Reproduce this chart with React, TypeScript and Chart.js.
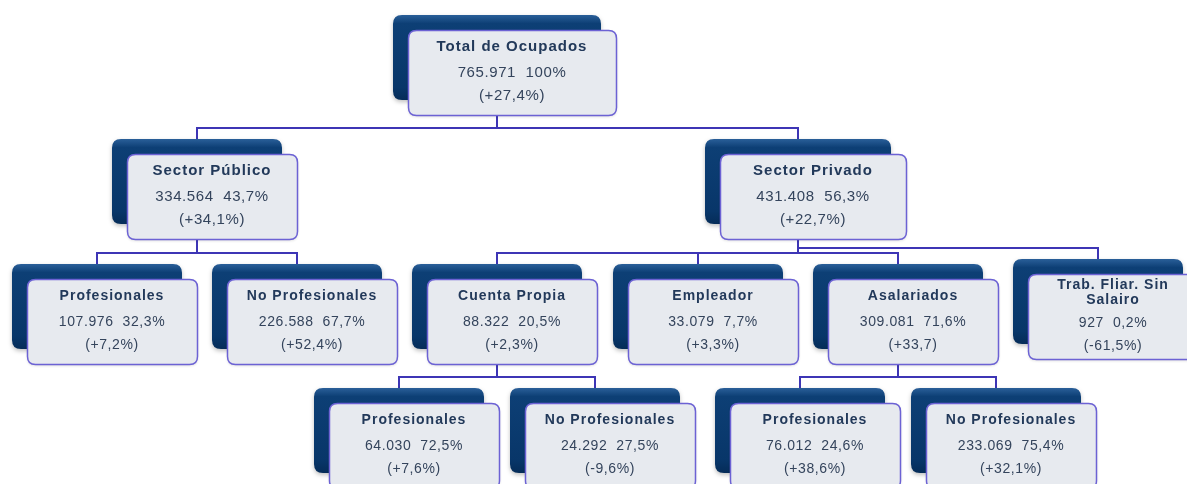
import { useEffect, useRef } from 'react';
import { Chart, registerables } from 'chart.js';
Chart.register(...registerables);

// ---- data ----
const nodeTitles = [
  'Total de Ocupados',
  'Sector Público',
  'Sector Privado',
  'Profesionales',
  'No Profesionales',
  'Cuenta Propia',
  'Empleador',
  'Asalariados',
  'Trab. Fliar. Sin\nSalairo',
  'Profesionales',
  'No Profesionales',
  'Profesionales',
  'No Profesionales',
];
const nodeParents = [-1, 0, 0, 1, 1, 2, 2, 2, 2, 5, 5, 7, 7];
const nodeCounts = [765971, 334564, 431408, 107976, 226588, 88322, 33079, 309081, 927, 64030, 24292, 76012, 233069];
const nodeShares = [100, 43.7, 56.3, 32.3, 67.7, 20.5, 7.7, 71.6, 0.2, 72.5, 27.5, 24.6, 75.4];
const nodeChanges = ['(+27,4%)', '(+34,1%)', '(+22,7%)', '(+7,2%)', '(+52,4%)', '(+2,3%)', '(+3,3%)', '(+33,7)', '(-61,5%)', '(+7,6%)', '(-9,6%)', '(+38,6%)', '(+32,1%)'];

// ---- styles ----
const BOX_H = 85;
const OFFSET = 15;
const DEFAULT_W = 170;
const WIDTH_OVERRIDE: Record<number, number> = { 0: 208, 2: 186 };
const LINE_COLOR = '#3d35b5';
const FRONT_FILL = '#e7eaef';
const FRONT_STROKE = '#6c62d4';
const TITLE_COLOR = '#22395a';
const VALUE_COLOR = '#34445c';
const FONT = '"Liberation Sans", Arial, sans-serif';

// ---- layout from tree structure ----
const depth: number[] = [];
const children: number[][] = nodeTitles.map(() => []);
nodeParents.forEach((p, i) => {
  depth[i] = p < 0 ? 0 : depth[p] + 1;
  if (p >= 0) children[p].push(i);
});
const slot: number[] = nodeTitles.map(() => 0);
let counter = 0;
nodeTitles.forEach((_, i) => {
  if (depth[i] === 2) slot[i] = counter++;
});
nodeTitles.forEach((_, i) => {
  if (depth[i] === 3) {
    const sib = children[nodeParents[i]];
    const j = sib.indexOf(i);
    slot[i] = slot[nodeParents[i]] + (j - (sib.length - 1) / 2) * 0.98;
  }
});
for (let i = nodeTitles.length - 1; i >= 0; i--) {
  if (depth[i] < 2 && children[i].length) {
    slot[i] = children[i].reduce((s, c) => s + slot[c], 0) / children[i].length;
  }
}

const fmtCount = (n: number) => String(n).replace(/\B(?=(\d{3})+(?!\d))/g, '.');
const fmtShare = (s: number) => String(s).replace('.', ',') + '%';

function roundRect(ctx: CanvasRenderingContext2D, x: number, y: number, w: number, h: number, r: number) {
  ctx.beginPath();
  ctx.moveTo(x + r, y);
  ctx.lineTo(x + w - r, y);
  ctx.quadraticCurveTo(x + w, y, x + w, y + r);
  ctx.lineTo(x + w, y + h - r);
  ctx.quadraticCurveTo(x + w, y + h, x + w - r, y + h);
  ctx.lineTo(x + r, y + h);
  ctx.quadraticCurveTo(x, y + h, x, y + h - r);
  ctx.lineTo(x, y + r);
  ctx.quadraticCurveTo(x, y, x + r, y);
  ctx.closePath();
}

const boxTop = (i: number, py: number) =>
  Math.round(py - BOX_H / 2 - (nodeTitles[i].includes('\n') ? 5 : 0));
const boxW = (i: number) => WIDTH_OVERRIDE[i] ?? DEFAULT_W;

const treePlugin = {
  id: 'treePlugin',
  beforeDatasetsDraw(chart: any) {
    const pts = chart.getDatasetMeta(0).data;
    const ctx: CanvasRenderingContext2D = chart.ctx;
    ctx.save();
    ctx.strokeStyle = LINE_COLOR;
    ctx.lineWidth = 2;
    ctx.lineJoin = 'miter';
    children.forEach((kids, i) => {
      if (!kids.length) return;
      const px = Math.round(pts[i].x);
      const frontBottom = boxTop(i, pts[i].y) + OFFSET + BOX_H;
      let maxElbow = frontBottom;
      kids.forEach((c) => {
        const cx = Math.round(pts[c].x);
        const ct = boxTop(c, pts[c].y);
        const ey = ct - 11;
        maxElbow = Math.max(maxElbow, ey);
        ctx.beginPath();
        ctx.moveTo(px, ey);
        ctx.lineTo(cx, ey);
        ctx.lineTo(cx, ct + 4);
        ctx.stroke();
      });
      ctx.beginPath();
      ctx.moveTo(px, frontBottom - 4);
      ctx.lineTo(px, maxElbow + 1);
      ctx.stroke();
    });
    ctx.restore();
  },
  afterDatasetsDraw(chart: any) {
    const pts = chart.getDatasetMeta(0).data;
    const ctx: CanvasRenderingContext2D = chart.ctx;
    nodeTitles.forEach((title, i) => {
      const w = boxW(i);
      const x = Math.round(pts[i].x - w / 2);
      const y = boxTop(i, pts[i].y);
      // back box
      ctx.save();
      ctx.shadowColor = 'rgba(0,0,0,0.25)';
      ctx.shadowBlur = 4;
      ctx.shadowOffsetY = 2;
      const g = ctx.createLinearGradient(0, y, 0, y + BOX_H);
      g.addColorStop(0, '#2a5f99');
      g.addColorStop(0.1, '#0d3f75');
      g.addColorStop(0.85, '#083669');
      g.addColorStop(1, '#052c58');
      ctx.fillStyle = g;
      roundRect(ctx, x, y, w, BOX_H, 9);
      ctx.fill();
      ctx.restore();
      // front box
      ctx.save();
      ctx.shadowColor = 'rgba(0,0,0,0.18)';
      ctx.shadowBlur = 3;
      ctx.shadowOffsetY = 1;
      roundRect(ctx, x + OFFSET + 0.5, y + OFFSET + 0.5, w, BOX_H, 8);
      ctx.fillStyle = FRONT_FILL;
      ctx.fill();
      ctx.restore();
      ctx.save();
      roundRect(ctx, x + OFFSET + 0.5, y + OFFSET + 0.5, w, BOX_H, 8);
      ctx.strokeStyle = FRONT_STROKE;
      ctx.lineWidth = 1.5;
      ctx.stroke();
      // text
      const size = depth[i] <= 1 ? 15 : 14;
      const cx = x + OFFSET + w / 2;
      const top = y + OFFSET;
      const lines = title.split('\n');
      ctx.textAlign = 'center';
      ctx.textBaseline = 'middle';
      ctx.fillStyle = TITLE_COLOR;
      ctx.font = `bold ${size}px ${FONT}`;
      (ctx as any).letterSpacing = '1px';
      const t0 = lines.length > 1 ? 11 : 17;
      lines.forEach((ln, k) => ctx.fillText(ln, cx, top + t0 + k * 15));
      const last = top + t0 + (lines.length - 1) * 15;
      const vy = last + (lines.length > 1 ? 23 : 26);
      ctx.font = `${size}px ${FONT}`;
      (ctx as any).letterSpacing = '0.6px';
      ctx.fillStyle = VALUE_COLOR;
      ctx.fillText(`${fmtCount(nodeCounts[i])}  ${fmtShare(nodeShares[i])}`, cx, vy);
      ctx.fillText(nodeChanges[i], cx, vy + 23);
      ctx.restore();
    });
  },
};

export default function App() {
  const ref = useRef<HTMLCanvasElement | null>(null);
  useEffect(() => {
    if (!ref.current) return;
    const chart = new Chart(ref.current, {
      type: 'scatter',
      data: {
        datasets: [
          {
            data: nodeTitles.map((_, i) => ({ x: slot[i], y: depth[i] })),
            pointRadius: 0,
            pointHoverRadius: 0,
          },
        ],
      },
      options: {
        animation: false,
        responsive: false,
        events: [],
        layout: { padding: 0 },
        plugins: { legend: { display: false }, tooltip: { enabled: false } },
        scales: {
          x: { type: 'linear', min: -97 / 200.2, max: (1187 - 97) / 200.2, display: false },
          y: { type: 'linear', min: -57.5 / 124.3, max: (484 - 57.5) / 124.3, reverse: true, display: false },
        },
      },
      plugins: [treePlugin],
    });
    return () => chart.destroy();
  }, []);
  return (
    <div style={{ position: 'absolute', left: 0, top: 0, width: 1187, height: 484, background: '#fff' }}>
      <canvas ref={ref} width={1187} height={484} style={{ display: 'block' }} />
    </div>
  );
}
